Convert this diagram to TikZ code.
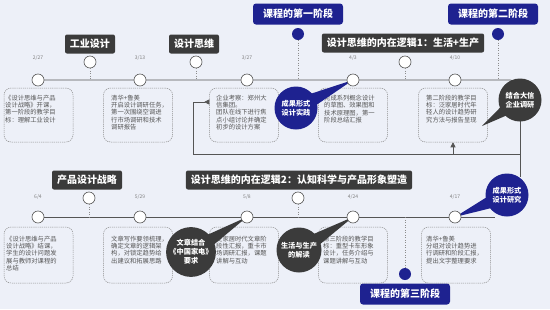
\documentclass[tikz,border=0pt]{standalone}
\usepackage{fontspec}
\setmainfont{Noto Sans CJK SC}
\usetikzlibrary{calc,arrows.meta}
\definecolor{bg}{HTML}{EDF0F8}
\definecolor{navy}{HTML}{1E2290}
\definecolor{dk}{HTML}{3B3B3B}
\definecolor{ln}{HTML}{555555}
\definecolor{dashc}{HTML}{8A8A8A}
\definecolor{txc}{HTML}{555555}
\begin{document}
\begin{tikzpicture}[x=1pt,y=-1pt,
  tagst/.style={fill=dk, rounded corners=2pt, text=white, font=\fontsize{10}{12}\selectfont\bfseries, minimum height=19pt, inner xsep=5pt, inner ysep=0pt},
  stagest/.style={fill=navy, rounded corners=3pt, text=white, font=\fontsize{10}{12}\selectfont\bfseries, minimum height=21pt, minimum width=90pt, inner sep=0pt},
  dotst/.style={circle, draw=ln, fill=white, line width=0.6pt, minimum size=12pt, inner sep=0pt},
  ndotst/.style={circle, fill=navy, minimum size=12pt, inner sep=0pt},
  datest/.style={text=black!50, font=\fontsize{5}{6}\selectfont, inner sep=0pt},
  boxst/.style={draw=dashc, dash pattern=on 1.2pt off 0.9pt, rounded corners=7pt, minimum width=69pt, inner sep=0pt, line width=0.5pt},
  txtst/.style={text=txc, font=\fontsize{6.3}{7.2}\selectfont, align=left, inner sep=0pt, anchor=north west},
  bubst/.style={circle, minimum size=43pt, inner sep=0pt, text=white, align=center, font=\fontsize{7.2}{9}\selectfont\bfseries},
  tlst/.style={draw=ln, line width=0.7pt},
  dotln/.style={draw=black!45, dotted, line width=0.5pt},
  connst/.style={draw=ln, line width=0.6pt},
]
\fill[bg] (0,0) rectangle (550,309);
\useasboundingbox (0,0) rectangle (550,309);

% ---------- coordinates ----------
\coordinate (tr) at (520,80);
\coordinate (br) at (495,217);

% ---------- top timeline ----------
\node[tagst] (tg1) at (90,44) {工业设计};
\node[tagst] (tg2) at (194,44) {设计思维};
\node[tagst] (tg3) at (403,43) {设计思维的内在逻辑1：生活+生产};
\node[stagest] (st1) at (298,14) {课程的第一阶段};
\node[stagest] (st2) at (493,14) {课程的第二阶段};

\coordinate (a1) at (38,80);
\coordinate (a2) at (140,80);
\coordinate (a3) at (247,80);
\coordinate (a4) at (353,80);
\coordinate (a5) at (455,80);

% boxes top
\node[boxst, minimum height=54pt] (tb1) at (38.5,115) {};
\node[boxst, minimum height=54pt] (tb2) at (138,115) {};
\node[boxst, minimum height=54pt] (tb3) at (244,115) {};
\node[boxst, minimum height=54pt] (tb4) at (353,115) {};
\node[boxst, minimum height=54pt] (tb5) at (453,115) {};

\node[txtst] (tt1) at (5,95) {《设计思维与产品\\设计战略》开课，\\第一阶段的教学目\\标：理解工业设计};
\node[txtst] (tt2) at (111,95) {清华+鲁美\\开启设计调研任务，\\第一次围绕空调进\\行市场调研和技术\\调研报告};
\node[txtst] (tt3) at (216,95) {企业考察：郑州大\\信集团。\\团队在线下进行焦\\点小组讨论并确定\\初步的设计方案};
\node[txtst] (tt4) at (324,95) {完成系列概念设计\\的草图、效果图和\\技术原理图，第一\\阶段总结汇报};
\node[txtst] (tt5) at (426,95) {第二阶段的教学目\\标：泛家居时代年\\轻人的设计趋势研\\究方法与报告呈现};

% ---------- bottom timeline ----------
\node[tagst] (tg4) at (87,180) {产品设计战略};
\node[tagst] (tg5) at (299,180) {设计思维的内在逻辑2：认知科学与产品形象塑造};
\node[stagest] (st3) at (405,294) {课程的第三阶段};

\coordinate (b1) at (38,217);
\coordinate (b2) at (140,217);
\coordinate (b3) at (247,217);
\coordinate (b4) at (353,217);
\coordinate (b5) at (455,217);

\node[boxst, minimum height=56pt] (bb1) at (38.5,255) {};
\node[boxst, minimum height=56pt] (bb2) at (138,255) {};
\node[boxst, minimum height=56pt] (bb3) at (244,255) {};
\node[boxst, minimum height=56pt] (bb4) at (353,255) {};
\node[boxst, minimum height=56pt] (bb5) at (456,255) {};

\node[txtst] (bt1) at (6,236) {《设计思维与产品\\设计战略》结课，\\学生的设计问题发\\展与教师对课程的\\总结};
\node[txtst] (bt2) at (111,236) {文章写作要领梳理，\\确定文章的逻辑架\\构，对锁定趋势给\\出建议和拓展思路};
\node[txtst] (bt3) at (216,236) {泛家居时代文章阶\\段性汇报，重卡市\\场调研汇报，课题\\讲解与互动};
\node[txtst] (bt4) at (323,236) {第三阶段的教学目\\标：重型卡车形象\\设计，任务介绍与\\课题讲解与互动};
\node[txtst] (bt5) at (426,236) {清华+鲁美\\分组对设计趋势进\\行调研和阶段汇报，\\提出文字整理要求};

% ---------- connectors ----------
\coordinate (c0) at (520,177);
\coordinate (c1) at (520,154);
\coordinate (c2) at (193,154);
\coordinate (c3) at (193,102);
\coordinate (c4) at (453,154);
\draw[connst] (tr) -- (c0);
\draw[connst, -{Triangle[reversed, length=5pt, width=5pt]}] (c1) -- (c2) -- (c3) -- (c3 -| tb3.west);
\draw[connst, -{Triangle[length=5pt, width=5pt]}] (c4) -- (tb5.south);

% timelines
\draw[tlst, rounded corners=10pt] (a1) -- (tr) -- (520,100);
\draw[tlst] (b1) -- (br);

% dotted verticals
\node[dotst] (sd1) at (90,62) {};
\node[dotst] (sd2) at (196,62) {};
\node[dotst] (sd3) at (405,62) {};
\node[ndotst] (nd1) at (298,34) {};
\node[ndotst] (nd2) at (498,34) {};
\draw[dotln] (sd1) -- (sd1 |- a1);
\draw[dotln] (sd2) -- (sd2 |- a1);
\draw[dotln] (sd3) -- (sd3 |- a1);
\draw[dotln] (nd1) -- (nd1 |- a1);
\draw[dotln] (nd2) -- (nd2 |- a1);

\node[dotst] (sd4) at (89,198) {};
\node[dotst] (sd5) at (298,198) {};
\node[ndotst] (nd3) at (405,274) {};
\draw[dotln] (sd4) -- (sd4 |- b1);
\draw[dotln] (sd5) -- (sd5 |- b1);
\draw[dotln] (nd3) -- (nd3 |- b1);

% ---------- bubbles with tails ----------
\coordinate (k1) at (296,108);
\coordinate (k2) at (520,100);
\coordinate (k3) at (507,195);
\coordinate (k4) at (191,252);
\coordinate (k5) at (299,250);
\coordinate (q2) at (482,126);

\fill[navy] ($(k1)!9pt!90:(a4)$) -- (a4) -- ($(k1)!9pt!-90:(a4)$) -- cycle;
\fill[dk] ($(k2)!9pt!90:(q2)$) -- (q2) -- ($(k2)!9pt!-90:(q2)$) -- cycle;
\fill[navy] ($(k3)!9pt!90:(b5)$) -- (b5) -- ($(k3)!9pt!-90:(b5)$) -- cycle;
\fill[dk] ($(k4)!9pt!90:(b3)$) -- (b3) -- ($(k4)!9pt!-90:(b3)$) -- cycle;
\fill[dk] ($(k5)!9pt!90:(b4)$) -- (b4) -- ($(k5)!9pt!-90:(b4)$) -- cycle;

\node[bubst, fill=navy] (bub1) at (k1) {成果形式\\设计实践};
\node[bubst, fill=dk] (bub2) at (k2) {结合大信\\企业调研};
\node[bubst, fill=navy] (bub3) at (k3) {成果形式\\设计研究};
\node[bubst, fill=dk, minimum size=45pt] (bub4) at (k4) {文章结合\\《中国家电》\\要求};
\node[bubst, fill=dk, minimum size=45pt] (bub5) at (k5) {生活与生产\\的解读};

% ---------- main dots and dates ----------
\foreach \p/\d in {a1/2\slash 27, a2/3\slash 13, a3/3\slash 27, a4/4\slash 3, a5/4\slash 10,
                   b1/6\slash 4, b2/5\slash 29, b3/5\slash 8, b4/4\slash 24, b5/4\slash 17}{
  \node[dotst] (d\p) at (\p) {};
}
\node[datest] (da1) at (38,58) {2/27};
\node[datest] (da2) at (140,58) {3/13};
\node[datest] (da3) at (247,58) {3/27};
\node[datest] (da4) at (353,58) {4/3};
\node[datest] (da5) at (455,58) {4/10};
\node[datest] (db1) at (38,197) {6/4};
\node[datest] (db2) at (140,197) {5/29};
\node[datest] (db3) at (247,197) {5/8};
\node[datest] (db4) at (353,197) {4/24};
\node[datest] (db5) at (455,197) {4/17};
\end{tikzpicture}
\end{document}
